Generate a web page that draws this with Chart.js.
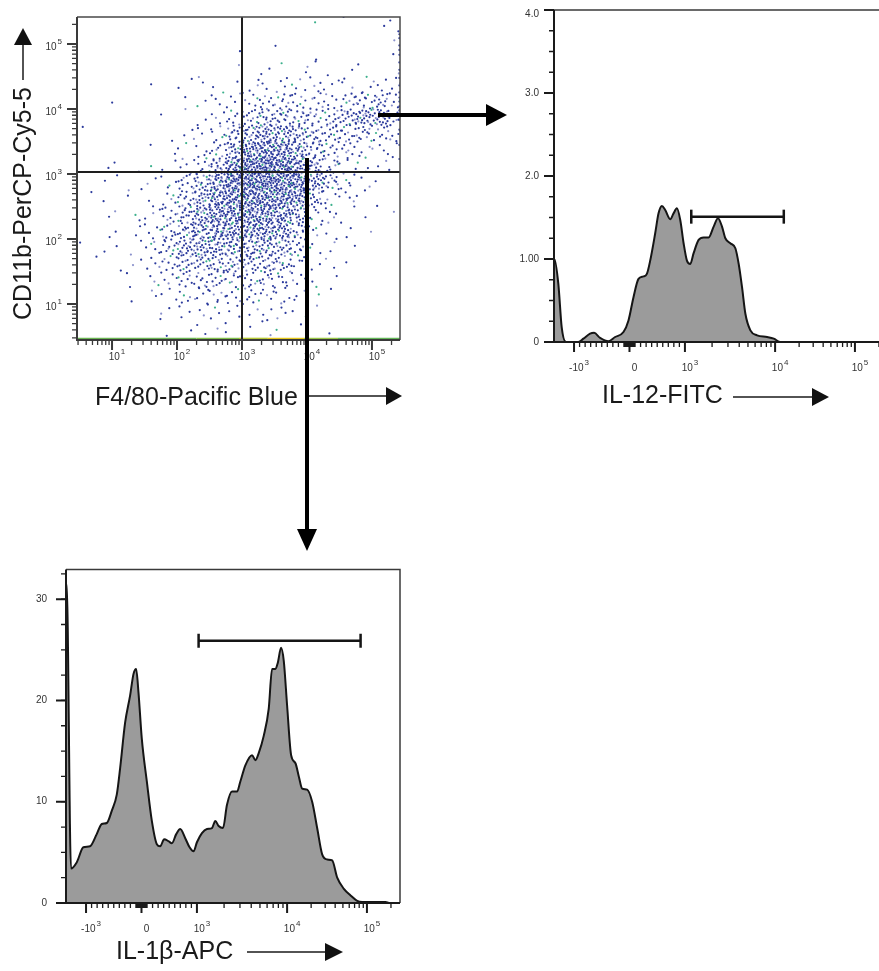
<!DOCTYPE html>
<html>
<head>
<meta charset="utf-8">
<script src="https://cdn.jsdelivr.net/npm/chart.js@4.4.1/dist/chart.umd.min.js"></script>
<style>
  html, body { margin: 0; padding: 0; width: 879px; height: 971px; overflow: hidden; background: #fff; }
  canvas { position: absolute; }
  #scatter { left: 0; top: 0; }
  #hist12 { left: 490px; top: 0; }
  #hist1b { left: 0; top: 560px; }
  svg { position: absolute; left: 0; top: 0; }
  svg text { font-family: "Liberation Sans", Arial, sans-serif; font-size: 25px; fill: #1a1a1a; }
</style>
</head>
<body>
<canvas id="scatter" width="420" height="380"></canvas>
<canvas id="hist12" width="420" height="380"></canvas>
<canvas id="hist1b" width="420" height="380"></canvas>
<svg width="879" height="971">
  <!-- axis titles -->
  <text x="95" y="405">F4/80-Pacific Blue</text>
  <line x1="308" y1="396" x2="387" y2="396" stroke="#1a1a1a" stroke-width="1.5"/>
  <polygon points="386,387 402,396 386,405" fill="#111"/>

  <text transform="translate(31,320) rotate(-90)">CD11b-PerCP-Cy5-5</text>
  <line x1="23" y1="80" x2="23" y2="44" stroke="#1a1a1a" stroke-width="1.5"/>
  <polygon points="14,45 23,28 32,45" fill="#111"/>

  <text x="602" y="403">IL-12-FITC</text>
  <line x1="733" y1="397" x2="813" y2="397" stroke="#1a1a1a" stroke-width="1.5"/>
  <polygon points="812,388 829,397 812,406" fill="#111"/>

  <text x="116" y="959">IL-1β-APC</text>
  <line x1="247" y1="952" x2="326" y2="952" stroke="#1a1a1a" stroke-width="1.5"/>
  <polygon points="325,943 343,952 325,961" fill="#111"/>

  <!-- gating arrows -->
  <line x1="378" y1="115" x2="489" y2="115" stroke="#000" stroke-width="4"/>
  <polygon points="486,104 507,115 486,126" fill="#000"/>
  <line x1="307" y1="158" x2="307" y2="531" stroke="#000" stroke-width="4"/>
  <polygon points="297,529 307,551 317,529" fill="#000"/>
</svg>
<script>
// ---- F4/80 vs CD11b dot plot ----
// events counted per quarter-decade cell
// rows go top (10^5.25..10^5.5) to bottom (10^0.5..10^0.75), columns 10^0.5 .. 10^5.5
const cellLogStart = 0.5;
const cellLogStep = 0.25;
const densityRows = [
  [0,0,0,0,0,0,0,0,0,0, 0,0,0,0,1,0,1,0,1,1],
  [0,0,0,0,0,0,0,0,0,0, 0,0,0,0,0,0,0,0,0,2],
  [0,0,0,0,0,0,0,0,0,1, 0,0,1,0,1,0,0,0,0,1],
  [0,0,0,0,0,0,0,0,0,1, 0,2,1,1,2,1,1,1,0,1],
  [0,0,0,0,1,0,2,2,2,1, 2,3,4,4,4,3,3,3,4,4],
  [0,0,1,0,0,0,1,2,3,4, 6,8,9,8,6,6,8,12,14,8],
  [0,0,0,0,0,1,1,2,4,7, 12,16,16,13,10,12,18,24,24,12],
  [1,0,0,0,0,1,2,3,6,14, 22,26,26,20,14,12,12,12,10,5],
  [0,0,0,0,1,1,2,4,9,22, 36,40,36,26,16,10,7,5,4,2],
  [0,1,1,1,1,2,4,8,18,36, 48,52,48,34,20,9,5,3,2,1],
  [0,1,1,1,2,4,9,18,30,44, 48,48,46,40,26,14,5,2,1,0],
  [1,1,1,1,2,5,12,22,34,40, 42,42,40,34,13,6,3,2,1,0],
  [0,1,1,2,3,8,16,26,34,38, 38,36,32,22,7,4,2,1,0,1],
  [0,1,1,2,5,10,18,26,30,32, 32,32,28,16,6,3,2,1,0,0],
  [1,1,1,2,5,12,20,24,24,24, 22,22,18,10,3,2,1,0,0,0],
  [0,1,1,2,4,8,14,16,16,16, 16,16,13,7,2,2,1,0,0,0],
  [0,0,1,1,3,5,9,10,10,10, 10,10,8,5,2,1,0,0,0,0],
  [0,0,0,1,2,3,5,6,6,6, 6,6,5,3,1,1,0,0,0,0],
  [0,0,0,0,1,2,3,3,3,3, 3,3,3,2,1,0,0,0,0,0],
  [0,0,0,0,0,1,1,2,2,1, 1,2,1,1,0,1,0,0,0,0]
];
// events piled on the right edge (CD11b values) and on the bottom edge
const rightEdgeY = [141000, 123000, 95000, 81000, 68000, 52000, 40000, 30000, 23000, 18000,
                    15000, 13000, 11000, 9500, 8300, 6800, 4800, 2800, 1700];
const bottomEdgeX = [2.9, 200, 900, 2500, 9000, 30000, 270000];
const scatterRangeX = [2.89, 270000];
const scatterRangeY = [2.79, 260000];
const quadrantX = 1000;
const quadrantY = 1070;
const logTicks = [10, 100, 1000, 10000, 100000];
const logTickLabels = ['10¹', '10²', '10³', '10⁴', '10⁵'];

// ---- histograms, x in display channels (0..1000 across the plot) ----
const channelTicks = [60, 226, 392, 662, 901];
const channelTickLabels = ['-10³', '0', '10³', '10⁴', '10⁵'];

const il12Channel = [0, 1, 13, 23, 36, 73, 88, 108, 120, 138, 163, 183, 208, 223, 238, 253, 268, 278, 288,
  303, 313, 323, 333, 348, 358, 368, 378, 388, 398, 408, 418, 433, 448, 463, 478, 491, 503, 513, 528,
  543, 553, 563, 573, 588, 608, 638, 658, 678, 1000];
const il12Count = [1.0, 1.0, 0.70, 0.18, 0, 0, 0.04, 0.10, 0.11, 0.05, 0.01, 0.06, 0.12, 0.26, 0.54, 0.76, 0.79, 0.82, 0.98,
  1.31, 1.55, 1.64, 1.59, 1.48, 1.55, 1.61, 1.47, 1.19, 0.98, 0.94, 1.07, 1.23, 1.26, 1.26, 1.39, 1.49, 1.39, 1.25, 1.19,
  1.13, 0.94, 0.66, 0.34, 0.14, 0.08, 0.06, 0.04, 0, 0];
const il12Ticks = [0, 1, 2, 3, 4];
const il12TickLabels = ['0', '1.00', '2.0', '3.0', '4.0'];
const il12Gate = [411, 688];
const il12GateLevel = 1.51;

const il1bChannel = [0, 2, 15, 32, 52, 72, 92, 107, 122, 137, 152, 162, 177, 192, 202, 210, 217, 227, 242, 257,
  272, 282, 294, 307, 317, 330, 342, 357, 370, 382, 392, 407, 422, 437, 447, 457, 470, 482, 497, 512, 522,
  537, 557, 567, 577, 592, 607, 617, 627, 634, 644, 652, 662, 674, 687, 697, 707, 722, 737, 752, 767, 782,
  797, 812, 832, 852, 872, 887, 957, 967, 1000];
const il1bCount = [31.5, 31.5, 3.4, 4.0, 5.5, 5.6, 6.8, 7.8, 7.9, 9.1, 10.7, 13.3, 17.8, 20.5, 22.6, 23.1, 20.8, 16.2, 12.0, 8.1,
  5.8, 5.6, 6.3, 6.1, 5.9, 6.8, 7.3, 6.4, 5.5, 5.1, 6.0, 6.9, 7.3, 7.4, 8.1, 7.6, 7.4, 9.7, 11.0, 11.0, 12.0,
  13.6, 14.6, 14.1, 14.8, 16.5, 19.2, 23.1, 23.1, 23.7, 25.2, 23.9, 19.5, 14.6, 13.8, 12.5, 11.3, 11.2, 10.0, 7.4, 4.8, 4.3,
  4.2, 2.5, 1.4, 0.75, 0.2, 0.1, 0.1, 0, 0];
const il1bTicks = [0, 10, 20, 30];
const il1bTickLabels = ['0', '10', '20', '30'];
const il1bGate = [397, 882];
const il1bGateLevel = 25.9;

// ---- helpers ----
const dotPalette = ['#2b3a9c', '#8a91cc', '#3cb08c'];
const tickFont = '"Liberation Sans", Arial, sans-serif';

// spreads each cell's events over the cell (low-discrepancy, deterministic)
function halton(i, b) {
  let f = 1, r = 0;
  while (i > 0) { f /= b; r += f * (i % b); i = Math.floor(i / b); }
  return r;
}
const dots = [];
let k = 1;
densityRows.forEach((row, r) => {
  const ly0 = cellLogStart + (densityRows.length - 1 - r) * cellLogStep;
  row.forEach((n, c) => {
    const lx0 = cellLogStart + c * cellLogStep;
    for (let m = 0; m < n; m++, k++) {
      dots.push({ x: Math.pow(10, lx0 + cellLogStep * halton(k, 2)), y: Math.pow(10, ly0 + cellLogStep * halton(k, 3)) });
    }
  });
});

// minor log ticks 2..9 per decade
function logMinors(lo, hi) {
  const out = [];
  for (let d = 0; d <= 5; d++) for (let m = 2; m <= 9; m++) {
    const v = m * Math.pow(10, d);
    if (v > lo && v < hi) out.push(v);
  }
  return out;
}
// biexponential display: linear between -10^3 and 10^3, log above
function toChannel(v) {
  if (Math.abs(v) <= 1000) return 226 + v * (392 - 60) / 2000;
  if (v > 1000 && v <= 10000) return 392 + Math.log10(v / 1000) * 270;
  if (v > 10000) return 662 + Math.log10(v / 10000) * 239;
  return 60 - Math.log10(-v / 1000) * 270;
}
const channelMinors = [];
[10, 100, 1000, 10000].forEach(step => {
  for (let m = 1; m <= 9; m++) {
    const v = m * step;
    if (step <= 100) { channelMinors.push(toChannel(v)); channelMinors.push(toChannel(-v)); }
    else if (m > 1) channelMinors.push(toChannel(v));
  }
});
channelMinors.push(toChannel(200000));

function stepMinors(max, step) {
  const out = [];
  for (let v = 0; v <= max + 1e-6; v += step) out.push(v);
  return out;
}

// "10³" -> base "10" + raised small exponent "3"
const supDigits = { '¹': '1', '²': '2', '³': '3', '⁴': '4', '⁵': '5' };
function drawLabel(ctx, text, x, y, align) {
  const last = text.slice(-1);
  if (!supDigits[last]) {
    ctx.font = '10px ' + tickFont;
    ctx.textAlign = align;
    ctx.fillText(text, x, y);
    return;
  }
  const base = text.slice(0, -1), exp = supDigits[last];
  ctx.font = '10px ' + tickFont;
  const wb = ctx.measureText(base).width;
  ctx.font = '8px ' + tickFont;
  const we = ctx.measureText(exp).width + 1;
  const w = wb + we;
  let x0 = align === 'center' ? x - w / 2 : x - w;
  ctx.textAlign = 'left';
  ctx.font = '10px ' + tickFont;
  ctx.fillText(base, x0, y);
  ctx.font = '8px ' + tickFont;
  ctx.fillText(exp, x0 + wb + 1, y - 5);
}

// frame, tick marks, tick labels and gate lines
const flowAxes = {
  id: 'flowAxes',
  afterDatasetsDraw(chart, args, o) {
    const { ctx, chartArea: a, scales: { x, y } } = chart;
    ctx.save();
    if (o.quadX) {
      ctx.strokeStyle = '#1e1e1e'; ctx.lineWidth = 2;
      const qx = x.getPixelForValue(o.quadX), qy = y.getPixelForValue(o.quadY);
      ctx.beginPath();
      ctx.moveTo(qx, a.top); ctx.lineTo(qx, a.bottom);
      ctx.moveTo(a.left, qy); ctx.lineTo(a.right, qy);
      ctx.stroke();
    }
    ctx.strokeStyle = o.frameColor; ctx.lineWidth = 1.5;
    ctx.beginPath();
    ctx.moveTo(a.left, a.top); ctx.lineTo(a.right, a.top); ctx.lineTo(a.right, a.bottom);
    ctx.stroke();
    ctx.strokeStyle = o.axisColor; ctx.lineWidth = 2;
    ctx.beginPath();
    ctx.moveTo(a.left, a.top); ctx.lineTo(a.left, a.bottom); ctx.lineTo(a.right, a.bottom);
    ctx.stroke();

    ctx.lineWidth = 1.3;
    ctx.beginPath();
    o.xMinor.forEach(v => { const p = x.getPixelForValue(v); ctx.moveTo(p, a.bottom); ctx.lineTo(p, a.bottom + o.minorLen); });
    o.yMinor.forEach(v => { const p = y.getPixelForValue(v); ctx.moveTo(a.left, p); ctx.lineTo(a.left - o.minorLen, p); });
    ctx.stroke();
    ctx.lineWidth = 2;
    ctx.beginPath();
    o.xMajor.forEach(v => { const p = x.getPixelForValue(v); ctx.moveTo(p, a.bottom); ctx.lineTo(p, a.bottom + o.majorLen); });
    o.yMajor.forEach(v => { const p = y.getPixelForValue(v); ctx.moveTo(a.left, p); ctx.lineTo(a.left - o.majorLen, p); });
    ctx.stroke();

    ctx.fillStyle = '#333';
    ctx.textBaseline = 'middle';
    o.xMajor.forEach((v, i) => drawLabel(ctx, o.xLabels[i], x.getPixelForValue(v) + 5, a.bottom + o.xLabelGap, 'center'));
    o.yMajor.forEach((v, i) => {
      const p = Math.min(Math.max(y.getPixelForValue(v) + o.yLabelShift, 14), chart.height - 6);
      drawLabel(ctx, o.yLabels[i], a.left - o.yLabelGap, p, 'right');
    });
    ctx.restore();
  }
};

// ---- dot plot ----
new Chart(document.getElementById('scatter'), {
  type: 'scatter',
  data: {
    datasets: [
      {
        data: dots,
        pointRadius: 1.1,
        pointBorderWidth: 0,
        pointBackgroundColor: c => dotPalette[c.dataIndex % 13 === 0 ? 2 : (c.dataIndex % 5 === 0 ? 1 : 0)]
      },
      {
        data: rightEdgeY.map(v => ({ x: scatterRangeX[1] * 0.98, y: v })),
        pointRadius: 1.1, pointBorderWidth: 0, pointBackgroundColor: dotPalette[0]
      },
      {
        type: 'line',
        data: bottomEdgeX.map(v => ({ x: v, y: 2.9 })),
        borderWidth: 2.5, pointRadius: 0,
        segment: { borderColor: c => ['#6ab552', '#80c04a', '#b5c936', '#e4c81c', '#98c645', '#63b657'][c.p0DataIndex] }
      }
    ]
  },
  options: {
    responsive: false,
    animation: false,
    layout: { padding: { left: 77, top: 17, right: 20, bottom: 40 } },
    plugins: {
      legend: { display: false },
      tooltip: { enabled: false },
      flowAxes: {
        frameColor: '#4a4a4a', axisColor: '#3a3a3a',
        xMajor: logTicks, xLabels: logTickLabels, xMinor: logMinors(scatterRangeX[0], scatterRangeX[1]),
        yMajor: logTicks, yLabels: logTickLabels, yMinor: logMinors(scatterRangeY[0], scatterRangeY[1]),
        majorLen: 10, minorLen: 5, xLabelGap: 17, yLabelGap: 15, yLabelShift: 3,
        quadX: quadrantX, quadY: quadrantY
      }
    },
    scales: {
      x: { type: 'logarithmic', min: scatterRangeX[0], max: scatterRangeX[1], display: false },
      y: { type: 'logarithmic', min: scatterRangeY[0], max: scatterRangeY[1], display: false }
    }
  },
  plugins: [flowAxes]
});

// ---- histograms ----
function histogram(id, chan, counts, gate, gateLevel, yMax, yTicks, yLabels, yStep, padding, yLabelGap) {
  new Chart(document.getElementById(id), {
    type: 'line',
    data: {
      datasets: [
        {
          data: chan.map((c, i) => ({ x: c, y: counts[i] })),
          borderColor: '#151515', borderWidth: 2,
          backgroundColor: '#9b9b9b', fill: 'origin',
          pointRadius: 0, cubicInterpolationMode: 'monotone'
        },
        {
          data: gate.map(c => ({ x: c, y: gateLevel })),
          borderColor: '#151515', borderWidth: 2.5, fill: false,
          pointStyle: 'line', pointRotation: 90, pointRadius: 7,
          pointBorderWidth: 2.5, pointBorderColor: '#151515'
        }
      ]
    },
    options: {
      responsive: false,
      animation: false,
      layout: { padding: padding },
      plugins: {
        legend: { display: false },
        tooltip: { enabled: false },
        flowAxes: {
          frameColor: '#3a3a3a', axisColor: '#1a1a1a',
          xMajor: channelTicks, xLabels: channelTickLabels, xMinor: channelMinors,
          yMajor: yTicks, yLabels: yLabels, yMinor: stepMinors(yMax, yStep),
          majorLen: 10, minorLen: 5, xLabelGap: 26, yLabelGap: yLabelGap, yLabelShift: 0
        }
      },
      scales: {
        x: { type: 'linear', min: 0, max: 1000, display: false },
        y: { type: 'linear', min: 0, max: yMax, display: false }
      }
    },
    plugins: [flowAxes]
  });
}

histogram('hist12', il12Channel, il12Count, il12Gate, il12GateLevel, 4.0,
  il12Ticks, il12TickLabels, 0.25, { left: 64, top: 10, right: 22, bottom: 38 }, 15);
histogram('hist1b', il1bChannel, il1bCount, il1bGate, il1bGateLevel, 32.93,
  il1bTicks, il1bTickLabels, 2.5, { left: 66, top: 8, right: 20, bottom: 37 }, 19);
</script>
</body>
</html>
